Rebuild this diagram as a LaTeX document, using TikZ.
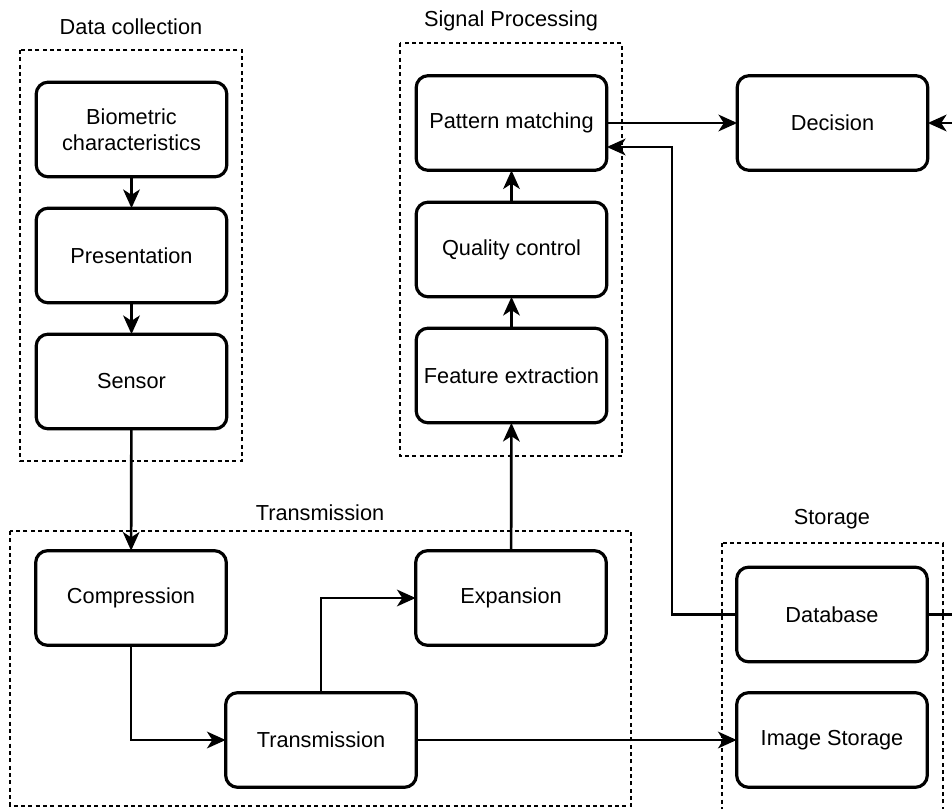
\documentclass[tikz,border=0pt]{standalone}
\usepackage{fontspec}
\setmainfont{Liberation Sans}
\usetikzlibrary{arrows.meta}
\begin{document}
\begin{tikzpicture}[x=0.75pt,y=-0.75pt,
  box/.style={draw,rounded corners=9pt,line width=2.4pt,minimum width=143pt,minimum height=71pt,inner sep=0pt,outer sep=0pt,align=center,font=\fontsize{16.3}{19.5}\selectfont},
  grp/.style={draw,line width=0.8pt,dash pattern=on 3pt off 2.5pt},
  lbl/.style={font=\fontsize{16.3}{19.5}\selectfont,inner sep=0pt},
  conn/.style={line width=2pt,-{Stealth[length=14pt,width=12.5pt,inset=4pt]}},
  plain/.style={line width=2pt}]
\useasboundingbox (0,0) rectangle (952,809);
% groups
\draw[grp] (20,50) rectangle (242,461);
\node[lbl] (lDC) at (131,27) {Data collection};
\draw[grp] (400,43) rectangle (622,456);
\node[lbl] (lSP) at (511,21) {Signal Processing};
\draw[grp] (10,531) rectangle (631,806);
\node[lbl] (lTR) at (320,513) {Transmission};
\draw[grp] (722,543) rectangle (943,812);
\node[lbl] (lST) at (832,519) {Storage};
% boxes
\node[box] (bio) at (131.5,129.5) {Biometric\\characteristics};
\node[box] (pres) at (131.5,255.5) {Presentation};
\node[box] (sensor) at (131.5,381.5) {Sensor};
\node[box] (pm) at (511.5,123) {Pattern matching};
\node[box] (qc) at (511.5,249.5) {Quality control};
\node[box] (fe) at (511.5,375.5) {Feature extraction};
\node[box] (dec) at (832.5,123) {Decision};
\node[box] (comp) at (131,598) {Compression};
\node[box] (trans) at (321,740) {Transmission};
\node[box] (exp) at (511,598) {Expansion};
\node[box] (db) at (832,614.5) {Database};
\node[box] (img) at (832,740) {Image Storage};
% free ends
\coordinate (decin) at (955,123);
\coordinate (dbout) at (955,614.5);
\coordinate (dbturn) at (672,614.5);
\coordinate (pmback) at (672,147);
% connectors
\draw[conn] (bio) -- (pres);
\draw[conn] (pres) -- (sensor);
\draw[conn] (sensor) -- (comp);
\draw[conn] (comp.south) |- (trans.west);
\draw[conn] (trans.north) |- (exp.west);
\draw[conn] (exp) -- (fe);
\draw[conn] (fe) -- (qc);
\draw[conn] (qc) -- (pm);
\draw[conn] (pm.east) -- (dec.west);
\draw[conn] (decin) -- (dec.east);
\draw[conn] (db.west) -- (dbturn) -- (pmback) -- (pm.east |- pmback);
\draw[plain] (db.east) -- (dbout);
\draw[conn] (trans.east) -- (img.west);
\end{tikzpicture}
\end{document}
